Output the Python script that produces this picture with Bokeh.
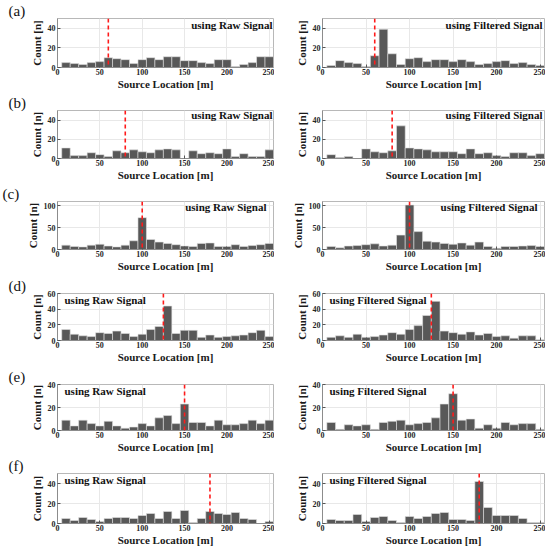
from bokeh.plotting import figure
from bokeh.layouts import gridplot
from bokeh.models import Span, Label, Range1d, Title
from bokeh.embed import file_html
from bokeh.resources import INLINE

# ---------------- data ----------------
bin_centers = [10, 20, 30, 40, 50, 60, 70, 80, 90, 100, 110, 120, 130,
               140, 150, 160, 170, 180, 190, 200, 210, 220, 230, 240, 250]
bin_width = 10
x_ticks = [0, 50, 100, 150, 200, 250]
x_max = 255

panel_tags = ["(a)", "(b)", "(c)", "(d)", "(e)", "(f)"]
source_locations = [60, 80, 100, 125, 150, 180]
y_max = [50, 50, 110, 60, 40, 50]
y_ticks = [[0, 20, 40], [0, 20, 40], [0, 50, 100], [0, 20, 40, 60], [0, 20, 40], [0, 20, 40]]
label_side = ["right", "right", "right", "left", "left", "left"]

raw_a = [5, 4, 3, 5, 6, 10, 9, 8, 4, 8, 10, 8, 11, 11, 7, 7, 5, 4, 8, 8, 1, 3, 5, 11, 11]
filt_a = [2, 7, 5, 4, 1, 12, 39, 14, 3, 9, 10, 6, 8, 8, 6, 8, 6, 3, 4, 6, 7, 4, 5, 3, 2]
raw_b = [11, 3, 3, 6, 4, 2, 8, 6, 9, 7, 6, 9, 10, 9, 0, 8, 5, 6, 5, 10, 2, 5, 2, 2, 9]
filt_b = [4, 1, 2, 0, 10, 7, 6, 8, 34, 11, 10, 9, 7, 7, 7, 5, 10, 5, 6, 3, 2, 6, 6, 3, 5]
raw_c = [10, 7, 6, 10, 12, 8, 6, 10, 20, 73, 23, 17, 14, 11, 8, 7, 14, 15, 7, 7, 11, 7, 9, 11, 14]
filt_c = [7, 4, 8, 9, 11, 13, 8, 10, 33, 102, 41, 19, 17, 14, 12, 15, 10, 17, 7, 3, 7, 7, 8, 9, 7]
raw_d = [14, 8, 6, 5, 10, 9, 12, 9, 5, 8, 14, 18, 44, 9, 13, 13, 4, 7, 4, 5, 6, 7, 10, 13, 5]
filt_d = [4, 6, 4, 8, 4, 5, 7, 10, 8, 14, 19, 32, 50, 12, 10, 8, 11, 7, 9, 5, 6, 3, 6, 6, 1]
raw_e = [9, 4, 9, 6, 4, 8, 4, 2, 3, 6, 4, 11, 13, 6, 23, 7, 7, 4, 9, 5, 5, 6, 9, 6, 9]
filt_e = [7, 1, 5, 4, 5, 1, 7, 8, 9, 5, 6, 7, 11, 23, 32, 9, 10, 2, 5, 2, 7, 5, 6, 6, 1]
raw_f = [5, 3, 6, 4, 2, 5, 6, 6, 5, 8, 10, 5, 12, 5, 13, 1, 5, 12, 10, 9, 11, 5, 4, 0, 2]
filt_f = [4, 3, 3, 9, 2, 6, 7, 3, 1, 7, 5, 7, 10, 11, 4, 4, 3, 42, 16, 8, 8, 8, 5, 1, 1]

raw_counts = [raw_a, raw_b, raw_c, raw_d, raw_e, raw_f]
filt_counts = [filt_a, filt_b, filt_c, filt_d, filt_e, filt_f]
column_texts = ["using Raw Signal", "using Filtered Signal"]

# ---------------- layout ----------------
row_top = [17, 15, 16, 19, 19, 16]
row_frame_h = [54, 55, 54, 51, 50, 55]
row_bottom = [21, 21, 21, 21, 21, 22]
left_fig_w = 274
right_fig_w = 271
left_border = [51, 51, 57, 51, 51, 51]
right_border = [43, 43, 48, 43, 43, 43]

SERIF = "Liberation Serif"
BAR = "#585858"


def make_panel(i, counts, text, fig_w, border_l, tag):
    T = row_top[i]
    H = row_frame_h[i]
    B = row_bottom[i]
    W = fig_w - border_l - 1
    p = figure(width=fig_w, height=T + H + B, output_backend="svg", toolbar_location=None,
               min_border_left=border_l, min_border_right=1, min_border_top=T,
               min_border_bottom=B, title=None,
               x_range=Range1d(0, x_max), y_range=Range1d(0, y_max[i]))
    p.background_fill_color = "white"
    p.border_fill_color = "white"
    p.outline_line_color = "#b8b8b8"
    p.outline_line_width = 1

    p.vbar(x=bin_centers, top=counts, width=bin_width, fill_color=BAR,
           line_color="#e0e0e0", line_width=0.6)

    p.add_layout(Span(location=source_locations[i], dimension="height",
                      line_color="#ff1a1a", line_dash="4 3", line_width=1.6))

    p.xaxis.ticker = x_ticks
    p.yaxis.ticker = y_ticks[i]
    for ax in (p.xaxis[0], p.yaxis[0]):
        ax.major_label_text_font = SERIF
        ax.major_label_text_font_style = "bold"
        ax.major_label_text_font_size = "8px"
        ax.major_label_text_color = "#262626"
        ax.axis_label_text_font = SERIF
        ax.axis_label_text_font_style = "bold"
        ax.axis_label_text_font_size = "11px"
        ax.axis_label_text_color = "#1a1a1a"
        ax.major_tick_in = 3
        ax.major_tick_out = 0
        ax.minor_tick_line_color = None
        ax.axis_line_color = "#8c8c8c"
        ax.major_tick_line_color = "#555555"
    p.xaxis.axis_label = "Source Location [m]"
    p.yaxis.axis_label = "Count [n]"
    p.xaxis.major_label_standoff = 1
    p.xaxis.axis_label_standoff = 0
    p.yaxis.major_label_standoff = 2
    p.yaxis.axis_label_standoff = 2

    p.xgrid.grid_line_color = "#e8e8e8"
    p.ygrid.grid_line_color = "#e8e8e8"

    side = label_side[i]
    p.add_layout(Label(x=(W - 7) if side == "right" else 7, y=0.79 * H,
                       x_units="screen", y_units="screen", text=text,
                       text_align=side, text_baseline="middle",
                       text_font=SERIF, text_font_style="bold",
                       text_font_size="11px", text_color="#111111"))
    if tag is not None:
        p.add_layout(Title(text=tag, align="left", offset=-border_l + 2, standoff=0,
                           text_font=SERIF, text_font_style="normal",
                           text_font_size="15px", text_color="#111111"), "above")
    return p


rows = []
for i in range(6):
    left = make_panel(i, raw_counts[i], column_texts[0], left_fig_w, left_border[i], panel_tags[i])
    right = make_panel(i, filt_counts[i], column_texts[1], right_fig_w, right_border[i], None)
    rows.append([left, right])

grid = gridplot(rows, toolbar_location=None)

open("out.html", "w").write(file_html(grid, INLINE))
